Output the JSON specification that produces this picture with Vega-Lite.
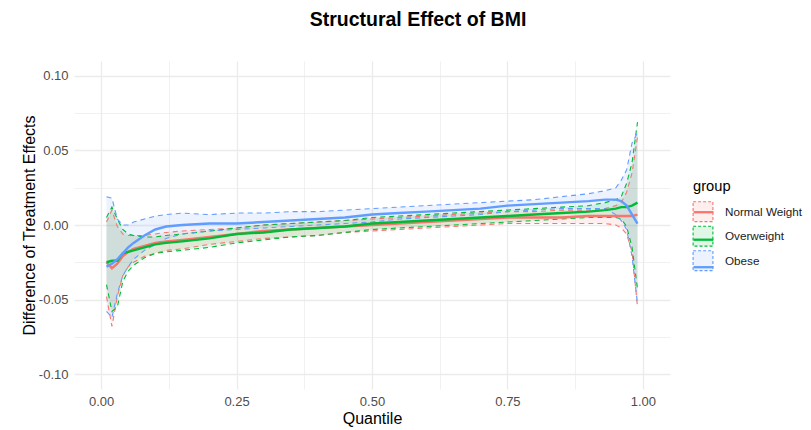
{
  "$schema": "https://vega.github.io/schema/vega-lite/v6.json",
  "autosize": {"type": "none"},
  "width": 596,
  "height": 328,
  "padding": {"left": 74, "top": 61, "right": 141, "bottom": 41},
  "background": "white",
  "title": {
    "text": "Structural Effect of BMI",
    "anchor": "middle",
    "dx": 46,
    "offset": 31,
    "font": "Liberation Sans",
    "fontSize": 19.5,
    "fontWeight": "bold",
    "color": "#000000"
  },
  "config": {
    "view": {"stroke": null},
    "font": "Liberation Sans",
    "axis": {
      "domain": false,
      "ticks": false,
      "labelFont": "Liberation Sans",
      "labelFontSize": 13,
      "labelColor": "#4D4D4D",
      "titleFont": "Liberation Sans",
      "titleFontSize": 16,
      "titleFontWeight": "normal",
      "titleColor": "#000000",
      "gridColor": "#EBEBEB"
    },
    "legend": {
      "orient": "none",
      "legendX": 619,
      "legendY": 118,
      "titleFont": "Liberation Sans",
      "titleFontSize": 14.7,
      "titleFontWeight": "normal",
      "titleColor": "#000000",
      "titlePadding": 8,
      "labelFont": "Liberation Sans",
      "labelFontSize": 11.7,
      "labelColor": "#1A1A1A",
      "labelOffset": 12,
      "rowPadding": -1.5,
      "symbolSize": 324,
      "symbolStrokeWidth": 1.1
    }
  },
  "resolve": {"legend": {"color": "independent"}},
  "data": {
    "values": [
      {"q": 0.01, "group": "Normal Weight", "mean": -0.025, "lo": -0.048, "hi": 0.002},
      {"q": 0.02, "group": "Normal Weight", "mean": -0.029, "lo": -0.068, "hi": 0.010},
      {"q": 0.03, "group": "Normal Weight", "mean": -0.026, "lo": -0.048, "hi": -0.001},
      {"q": 0.04, "group": "Normal Weight", "mean": -0.021, "lo": -0.034, "hi": -0.006},
      {"q": 0.05, "group": "Normal Weight", "mean": -0.018, "lo": -0.028, "hi": -0.007},
      {"q": 0.06, "group": "Normal Weight", "mean": -0.016, "lo": -0.025, "hi": -0.007},
      {"q": 0.08, "group": "Normal Weight", "mean": -0.014, "lo": -0.021, "hi": -0.007},
      {"q": 0.10, "group": "Normal Weight", "mean": -0.012, "lo": -0.019, "hi": -0.006},
      {"q": 0.12, "group": "Normal Weight", "mean": -0.011, "lo": -0.017, "hi": -0.005},
      {"q": 0.15, "group": "Normal Weight", "mean": -0.010, "lo": -0.016, "hi": -0.004},
      {"q": 0.20, "group": "Normal Weight", "mean": -0.008, "lo": -0.013, "hi": -0.003},
      {"q": 0.25, "group": "Normal Weight", "mean": -0.006, "lo": -0.011, "hi": -0.002},
      {"q": 0.30, "group": "Normal Weight", "mean": -0.004, "lo": -0.009, "hi": 0.000},
      {"q": 0.35, "group": "Normal Weight", "mean": -0.003, "lo": -0.008, "hi": 0.001},
      {"q": 0.40, "group": "Normal Weight", "mean": -0.002, "lo": -0.007, "hi": 0.002},
      {"q": 0.45, "group": "Normal Weight", "mean": -0.001, "lo": -0.005, "hi": 0.003},
      {"q": 0.50, "group": "Normal Weight", "mean": 0.000, "lo": -0.004, "hi": 0.004},
      {"q": 0.55, "group": "Normal Weight", "mean": 0.001, "lo": -0.003, "hi": 0.005},
      {"q": 0.60, "group": "Normal Weight", "mean": 0.002, "lo": -0.002, "hi": 0.006},
      {"q": 0.65, "group": "Normal Weight", "mean": 0.003, "lo": -0.001, "hi": 0.007},
      {"q": 0.70, "group": "Normal Weight", "mean": 0.004, "lo": 0.000, "hi": 0.008},
      {"q": 0.75, "group": "Normal Weight", "mean": 0.005, "lo": 0.001, "hi": 0.009},
      {"q": 0.80, "group": "Normal Weight", "mean": 0.005, "lo": 0.001, "hi": 0.009},
      {"q": 0.85, "group": "Normal Weight", "mean": 0.005, "lo": 0.001, "hi": 0.010},
      {"q": 0.90, "group": "Normal Weight", "mean": 0.006, "lo": 0.001, "hi": 0.010},
      {"q": 0.93, "group": "Normal Weight", "mean": 0.006, "lo": 0.001, "hi": 0.011},
      {"q": 0.95, "group": "Normal Weight", "mean": 0.006, "lo": 0.000, "hi": 0.013},
      {"q": 0.96, "group": "Normal Weight", "mean": 0.006, "lo": -0.002, "hi": 0.015},
      {"q": 0.97, "group": "Normal Weight", "mean": 0.006, "lo": -0.006, "hi": 0.022},
      {"q": 0.98, "group": "Normal Weight", "mean": 0.006, "lo": -0.018, "hi": 0.035},
      {"q": 0.99, "group": "Normal Weight", "mean": 0.007, "lo": -0.055, "hi": 0.059},

      {"q": 0.01, "group": "Overweight", "mean": -0.025, "lo": -0.040, "hi": 0.005},
      {"q": 0.02, "group": "Overweight", "mean": -0.024, "lo": -0.058, "hi": 0.012},
      {"q": 0.03, "group": "Overweight", "mean": -0.024, "lo": -0.055, "hi": 0.004},
      {"q": 0.04, "group": "Overweight", "mean": -0.019, "lo": -0.038, "hi": -0.003},
      {"q": 0.05, "group": "Overweight", "mean": -0.018, "lo": -0.031, "hi": -0.006},
      {"q": 0.06, "group": "Overweight", "mean": -0.017, "lo": -0.027, "hi": -0.007},
      {"q": 0.08, "group": "Overweight", "mean": -0.015, "lo": -0.022, "hi": -0.008},
      {"q": 0.10, "group": "Overweight", "mean": -0.013, "lo": -0.019, "hi": -0.008},
      {"q": 0.12, "group": "Overweight", "mean": -0.012, "lo": -0.018, "hi": -0.007},
      {"q": 0.15, "group": "Overweight", "mean": -0.011, "lo": -0.017, "hi": -0.006},
      {"q": 0.20, "group": "Overweight", "mean": -0.009, "lo": -0.015, "hi": -0.004},
      {"q": 0.25, "group": "Overweight", "mean": -0.006, "lo": -0.012, "hi": -0.002},
      {"q": 0.30, "group": "Overweight", "mean": -0.005, "lo": -0.010, "hi": 0.000},
      {"q": 0.35, "group": "Overweight", "mean": -0.003, "lo": -0.008, "hi": 0.001},
      {"q": 0.40, "group": "Overweight", "mean": -0.002, "lo": -0.007, "hi": 0.002},
      {"q": 0.45, "group": "Overweight", "mean": -0.001, "lo": -0.005, "hi": 0.003},
      {"q": 0.50, "group": "Overweight", "mean": 0.001, "lo": -0.003, "hi": 0.005},
      {"q": 0.55, "group": "Overweight", "mean": 0.002, "lo": -0.002, "hi": 0.006},
      {"q": 0.60, "group": "Overweight", "mean": 0.003, "lo": -0.001, "hi": 0.007},
      {"q": 0.65, "group": "Overweight", "mean": 0.004, "lo": 0.000, "hi": 0.008},
      {"q": 0.70, "group": "Overweight", "mean": 0.005, "lo": 0.001, "hi": 0.009},
      {"q": 0.75, "group": "Overweight", "mean": 0.006, "lo": 0.002, "hi": 0.010},
      {"q": 0.80, "group": "Overweight", "mean": 0.007, "lo": 0.003, "hi": 0.011},
      {"q": 0.85, "group": "Overweight", "mean": 0.008, "lo": 0.004, "hi": 0.012},
      {"q": 0.90, "group": "Overweight", "mean": 0.009, "lo": 0.005, "hi": 0.013},
      {"q": 0.93, "group": "Overweight", "mean": 0.010, "lo": 0.005, "hi": 0.015},
      {"q": 0.95, "group": "Overweight", "mean": 0.011, "lo": 0.005, "hi": 0.017},
      {"q": 0.96, "group": "Overweight", "mean": 0.012, "lo": 0.004, "hi": 0.019},
      {"q": 0.97, "group": "Overweight", "mean": 0.012, "lo": -0.001, "hi": 0.028},
      {"q": 0.98, "group": "Overweight", "mean": 0.013, "lo": -0.015, "hi": 0.042},
      {"q": 0.99, "group": "Overweight", "mean": 0.015, "lo": -0.043, "hi": 0.069},

      {"q": 0.01, "group": "Obese", "mean": -0.028, "lo": -0.058, "hi": 0.019},
      {"q": 0.02, "group": "Obese", "mean": -0.026, "lo": -0.062, "hi": 0.018},
      {"q": 0.03, "group": "Obese", "mean": -0.023, "lo": -0.046, "hi": 0.004},
      {"q": 0.04, "group": "Obese", "mean": -0.019, "lo": -0.034, "hi": 0.000},
      {"q": 0.05, "group": "Obese", "mean": -0.015, "lo": -0.028, "hi": 0.000},
      {"q": 0.06, "group": "Obese", "mean": -0.012, "lo": -0.023, "hi": 0.002},
      {"q": 0.08, "group": "Obese", "mean": -0.007, "lo": -0.017, "hi": 0.004},
      {"q": 0.10, "group": "Obese", "mean": -0.003, "lo": -0.013, "hi": 0.006},
      {"q": 0.12, "group": "Obese", "mean": -0.001, "lo": -0.009, "hi": 0.007},
      {"q": 0.15, "group": "Obese", "mean": 0.000, "lo": -0.006, "hi": 0.008},
      {"q": 0.20, "group": "Obese", "mean": 0.001, "lo": -0.004, "hi": 0.007},
      {"q": 0.25, "group": "Obese", "mean": 0.001, "lo": -0.003, "hi": 0.008},
      {"q": 0.30, "group": "Obese", "mean": 0.002, "lo": -0.002, "hi": 0.008},
      {"q": 0.35, "group": "Obese", "mean": 0.003, "lo": -0.001, "hi": 0.009},
      {"q": 0.40, "group": "Obese", "mean": 0.004, "lo": 0.000, "hi": 0.009},
      {"q": 0.45, "group": "Obese", "mean": 0.005, "lo": 0.001, "hi": 0.010},
      {"q": 0.50, "group": "Obese", "mean": 0.007, "lo": 0.002, "hi": 0.011},
      {"q": 0.55, "group": "Obese", "mean": 0.008, "lo": 0.004, "hi": 0.012},
      {"q": 0.60, "group": "Obese", "mean": 0.009, "lo": 0.005, "hi": 0.013},
      {"q": 0.65, "group": "Obese", "mean": 0.010, "lo": 0.006, "hi": 0.014},
      {"q": 0.70, "group": "Obese", "mean": 0.011, "lo": 0.007, "hi": 0.015},
      {"q": 0.75, "group": "Obese", "mean": 0.013, "lo": 0.009, "hi": 0.016},
      {"q": 0.80, "group": "Obese", "mean": 0.014, "lo": 0.010, "hi": 0.017},
      {"q": 0.85, "group": "Obese", "mean": 0.015, "lo": 0.011, "hi": 0.019},
      {"q": 0.90, "group": "Obese", "mean": 0.016, "lo": 0.011, "hi": 0.021},
      {"q": 0.93, "group": "Obese", "mean": 0.017, "lo": 0.011, "hi": 0.023},
      {"q": 0.95, "group": "Obese", "mean": 0.017, "lo": 0.007, "hi": 0.025},
      {"q": 0.96, "group": "Obese", "mean": 0.016, "lo": 0.003, "hi": 0.030},
      {"q": 0.97, "group": "Obese", "mean": 0.013, "lo": -0.003, "hi": 0.037},
      {"q": 0.98, "group": "Obese", "mean": 0.007, "lo": -0.021, "hi": 0.055},
      {"q": 0.99, "group": "Obese", "mean": 0.001, "lo": -0.053, "hi": 0.062}
    ]
  },
  "encoding": {
    "x": {
      "field": "q",
      "type": "quantitative",
      "title": "Quantile",
      "scale": {"domain": [-0.05, 1.05], "nice": false, "zero": false},
      "axis": {
        "values": [0, 0.125, 0.25, 0.375, 0.5, 0.625, 0.75, 0.875, 1],
        "labelExpr": "round(datum.value * 8) % 2 == 1 ? '' : format(datum.value, '.2f')",
        "labelPadding": 6,
        "titlePadding": 2,
        "gridWidth": {"condition": {"test": "round(datum.value * 8) % 2 == 1", "value": 0.7}, "value": 1.3}
      }
    }
  },
  "layer": [
    {
      "mark": {"type": "area", "fillOpacity": 0.12, "strokeWidth": 0},
      "encoding": {
        "y": {
          "field": "lo",
          "type": "quantitative",
          "title": "Difference of Treatment Effects",
          "scale": {"domain": [-0.11, 0.11], "nice": false, "zero": false},
          "axis": {
            "values": [-0.1, -0.075, -0.05, -0.025, 0, 0.025, 0.05, 0.075, 0.1],
            "labelExpr": "abs(round(datum.value * 40)) % 2 == 1 ? '' : (datum.value < -0.0001 ? '-' : '') + format(abs(datum.value), '.2f')",
            "labelPadding": 6,
            "titlePadding": 1,
            "gridWidth": {"condition": {"test": "abs(round(datum.value * 40)) % 2 == 1", "value": 0.7}, "value": 1.3}
          }
        },
        "y2": {"field": "hi"},
        "color": {
          "field": "group",
          "type": "nominal",
          "scale": {
            "domain": ["Normal Weight", "Overweight", "Obese"],
            "range": ["#F8766D", "#00BA38", "#619CFF"]
          },
          "legend": {
            "title": "group",
            "symbolType": "M-1.1,-1.1H1.1V1.1H-1.1Z",
            "encode": {
              "symbols": {
                "update": {
                  "fill": {"scale": "color", "field": "value"},
                  "fillOpacity": {"value": 0.12},
                  "stroke": {"scale": "color", "field": "value"},
                  "strokeWidth": {"value": 1.1},
                  "strokeDash": {"value": [3, 2]},
                  "opacity": {"value": 1}
                }
              }
            }
          }
        }
      }
    },
    {
      "transform": [{"fold": ["lo", "hi"], "as": ["bound", "limit"]}],
      "mark": {"type": "line", "strokeWidth": 1.1, "strokeDash": [5, 4]},
      "encoding": {
        "y": {"field": "limit", "type": "quantitative"},
        "detail": {"field": "bound", "type": "nominal"},
        "color": {"field": "group", "type": "nominal", "legend": null}
      }
    },
    {
      "mark": {"type": "line", "strokeWidth": 2.4},
      "encoding": {
        "y": {"field": "mean", "type": "quantitative"},
        "color": {
          "field": "group",
          "type": "nominal",
          "legend": {
            "title": " ",
            "labelExpr": "''",
            "symbolType": "M-1.1,0H1.1M-1.1,-1.1M1.1,1.1",
            "encode": {
              "symbols": {
                "update": {
                  "fill": {"value": "transparent"},
                  "stroke": {"scale": "color", "field": "value"},
                  "strokeWidth": {"value": 2.3},
                  "opacity": {"value": 1}
                }
              }
            }
          }
        }
      }
    }
  ]
}
